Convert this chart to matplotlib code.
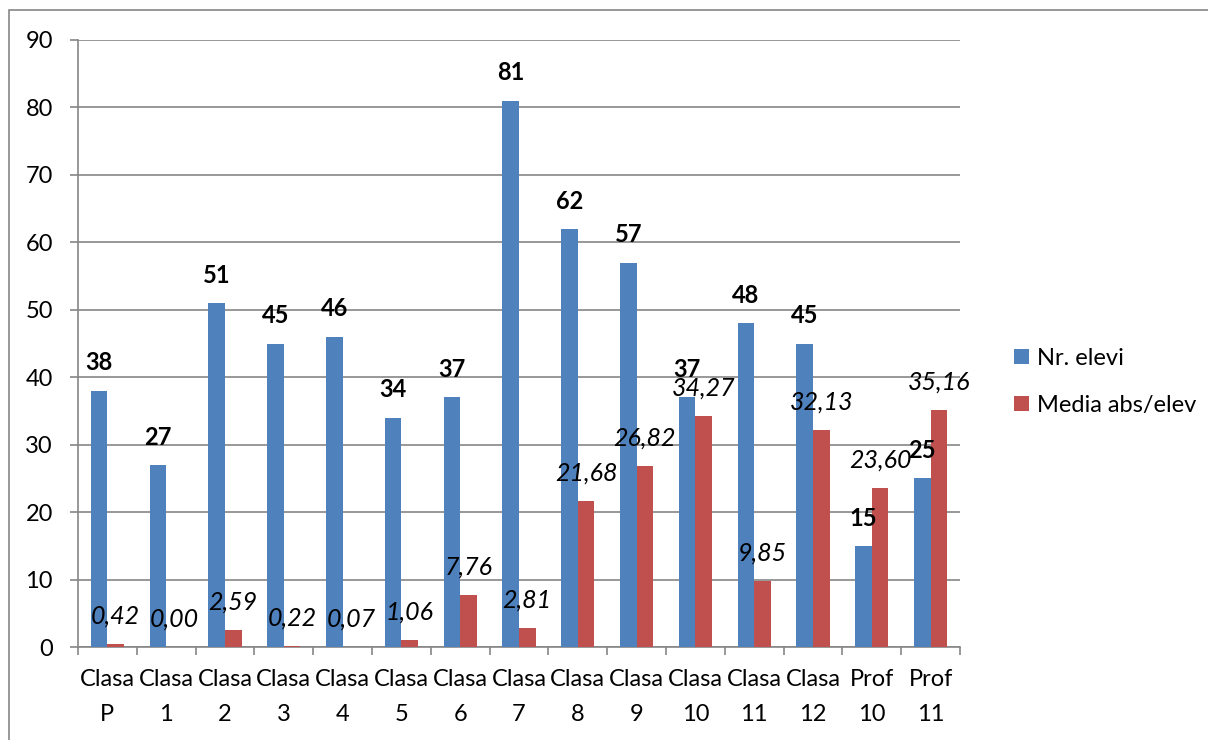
import matplotlib.pyplot as plt
import matplotlib as mpl
import numpy as np

mpl.rcParams.update({
    "font.family": ["Lato", "DejaVu Sans"],
})

CATEGORIES = ["Clasa\nP", "Clasa\n1", "Clasa\n2", "Clasa\n3", "Clasa\n4",
              "Clasa\n5", "Clasa\n6", "Clasa\n7", "Clasa\n8", "Clasa\n9",
              "Clasa\n10", "Clasa\n11", "Clasa\n12", "Prof\n10", "Prof\n11"]
NR_ELEVI = [38, 27, 51, 45, 46, 34, 37, 81, 62, 57, 37, 48, 45, 15, 25]
MEDIA_ABS = [0.42, 0.00, 2.59, 0.22, 0.07, 1.06, 7.76, 2.81, 21.68, 26.82,
             34.27, 9.85, 32.13, 23.60, 35.16]
SERIES_LABELS = ["Nr. elevi", "Media abs/elev"]

BLUE = "#4F81BD"
RED = "#C0504D"
GRID = "#868686"
FS = 17

W, H = 1208, 740
fig = plt.figure(figsize=(W / 100, H / 100), dpi=100)
ax = fig.add_axes([78 / W, 1 - 647 / H, (960 - 78) / W, (647 - 40) / H])

# outer chart border (right/bottom fall outside the picture)
fig.patches.append(mpl.patches.Rectangle(
    (9 / W, -0.1), 1.2, 1 - 10 / H + 0.1, transform=fig.transFigure,
    fill=False, edgecolor=GRID, linewidth=1.2))

x = np.arange(len(CATEGORIES))
bw = 0.283
b1 = ax.bar(x - bw / 2, NR_ELEVI, bw, color=BLUE, label=SERIES_LABELS[0], zorder=3)
b2 = ax.bar(x + bw / 2, MEDIA_ABS, bw, color=RED, label=SERIES_LABELS[1], zorder=3)

for xi, v in zip(x, NR_ELEVI):
    ax.annotate(f"{v}", (xi - bw / 2, v), xytext=(0, 20), textcoords="offset points",
                ha="center", va="center", fontsize=FS, fontweight="bold", zorder=4)
for xi, v in zip(x, MEDIA_ABS):
    ax.annotate(f"{v:.2f}".replace(".", ","), (xi + bw / 2, v), xytext=(0, 20),
                textcoords="offset points", ha="center", va="center",
                fontsize=FS + 1, fontstyle="italic", zorder=4)

ax.set_xlim(-0.5, len(CATEGORIES) - 0.5)
ax.set_ylim(0, 90)
ax.set_yticks(range(0, 91, 10))
ax.grid(axis="y", color=GRID, linewidth=1.2, zorder=0)
ax.set_axisbelow(True)

ax.set_xticks(x)
ax.set_xticklabels(CATEGORIES, fontsize=FS, linespacing=1.8)
ax.set_xticks(np.arange(-0.5, len(CATEGORIES)), minor=True)
ax.tick_params(axis="x", which="major", length=0, pad=16)
ax.tick_params(axis="x", which="minor", length=6, color=GRID, width=1.2)
ax.tick_params(axis="y", length=6, color=GRID, width=1.2, labelsize=FS, pad=12)

for s in ["top", "right"]:
    ax.spines[s].set_visible(False)
for s in ["left", "bottom"]:
    ax.spines[s].set_color(GRID)
    ax.spines[s].set_linewidth(1.2)

fig.legend(handles=[b1, b2], loc="upper left", bbox_to_anchor=(1002 / W, 1 - 336 / H),
           frameon=False, fontsize=FS, handlelength=0.65, handleheight=0.65,
           handletextpad=0.35, labelspacing=1.1, borderpad=0)

fig.savefig("out.png", dpi=100)
